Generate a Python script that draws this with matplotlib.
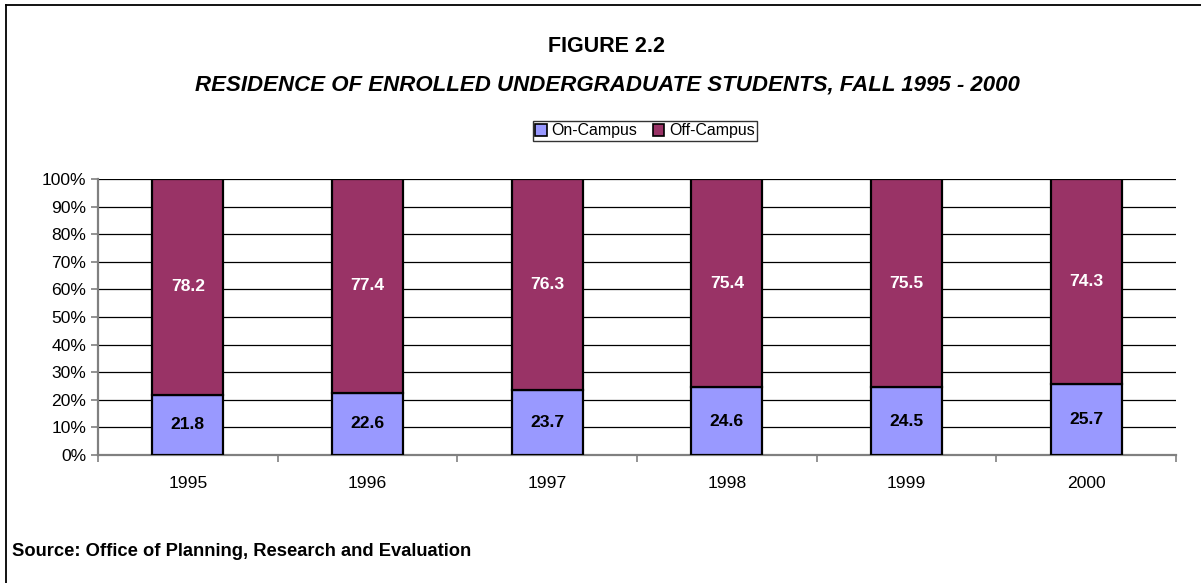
import matplotlib
matplotlib.use("Agg")
import matplotlib.pyplot as plt
from matplotlib.lines import Line2D
from matplotlib.patches import Patch
import numpy as np

plt.rcParams['font.family'] = ['Liberation Sans', 'DejaVu Sans']

years = ["1995", "1996", "1997", "1998", "1999", "2000"]
on_campus = [21.8, 22.6, 23.7, 24.6, 24.5, 25.7]
off_campus = [78.2, 77.4, 76.3, 75.4, 75.5, 74.3]
yticks = [0, 10, 20, 30, 40, 50, 60, 70, 80, 90, 100]

W, H = 1201, 583
fig = plt.figure(figsize=(W / 100, H / 100), dpi=100)
ax = fig.add_axes([98 / W, 1 - 455 / H, (1176 - 98) / W, (455 - 179) / H])

x = np.arange(len(years))
bw = 0.395
on_c = "#9999FF"
off_c = "#993366"
ax.bar(x, on_campus, bw, color=on_c, edgecolor="black", linewidth=1.6, zorder=3)
ax.bar(x, off_campus, bw, bottom=on_campus, color=off_c, edgecolor="black", linewidth=1.6, zorder=3)

for xi, a, b in zip(x, on_campus, off_campus):
    ax.text(xi, a / 2, f"{a:.1f}", ha="center", va="center", fontsize=12.6,
            fontweight="bold", color="black", zorder=4)
    ax.text(xi, a + b / 2, f"{b:.1f}", ha="center", va="center", fontsize=12.6,
            fontweight="bold", color="white", zorder=4)

ax.set_xlim(-0.5, len(years) - 0.5)
ax.set_ylim(0, 100)
ax.set_yticks(yticks)
ax.set_yticklabels([f"{v}%" for v in yticks], fontsize=12.6)
ax.yaxis.grid(True, color="black", linewidth=0.9, zorder=0)
ax.set_axisbelow(True)

ax.set_xticks(x)
ax.set_xticklabels(years, fontsize=12.6)
ax.tick_params(axis="x", which="major", length=0, pad=15)
ax.set_xticks(np.arange(len(years) + 1) - 0.5, minor=True)
ax.tick_params(axis="x", which="minor", length=5, color="#808080", width=1.2)
ax.tick_params(axis="y", length=5, color="#808080", width=1.2, pad=3.5)

for s in ["top", "right"]:
    ax.spines[s].set_visible(False)
ax.spines["left"].set_color("#808080")
ax.spines["left"].set_linewidth(1.6)
ax.spines["bottom"].set_color("#808080")
ax.spines["bottom"].set_linewidth(1.6)

fig.text(607 / W, 1 - 46 / H, "FIGURE 2.2", ha="center", va="center",
         fontsize=15.5, fontweight="bold")
fig.text(607 / W, 1 - 85 / H, "RESIDENCE OF ENROLLED UNDERGRADUATE STUDENTS, FALL 1995 - 2000",
         ha="center", va="center", fontsize=16, fontweight="bold", fontstyle="italic")

handles = [Patch(facecolor=on_c, edgecolor="black", linewidth=1.2),
           Patch(facecolor=off_c, edgecolor="black", linewidth=1.2)]
leg = fig.legend(handles, ["On-Campus", "Off-Campus"], loc="center",
                 bbox_to_anchor=(645 / W, 1 - 131 / H), ncol=2, fontsize=11.4,
                 frameon=True, fancybox=False, borderpad=0.15, handlelength=0.7,
                 handleheight=0.7, handletextpad=0.3, columnspacing=1.0,
                 borderaxespad=0)
leg.get_frame().set_edgecolor("black")
leg.get_frame().set_linewidth(1.0)

fig.text(12 / W, 1 - 551 / H, "Source: Office of Planning, Research and Evaluation",
         ha="left", va="center", fontsize=13.2, fontweight="bold")

fig.add_artist(Line2D([6 / W, 1], [1 - 5 / H, 1 - 5 / H], color="black", linewidth=1.3,
                      transform=fig.transFigure))
fig.add_artist(Line2D([6 / W, 6 / W], [0, 1 - 5 / H], color="black", linewidth=1.3,
                      transform=fig.transFigure))

fig.savefig("out.png", dpi=100)
